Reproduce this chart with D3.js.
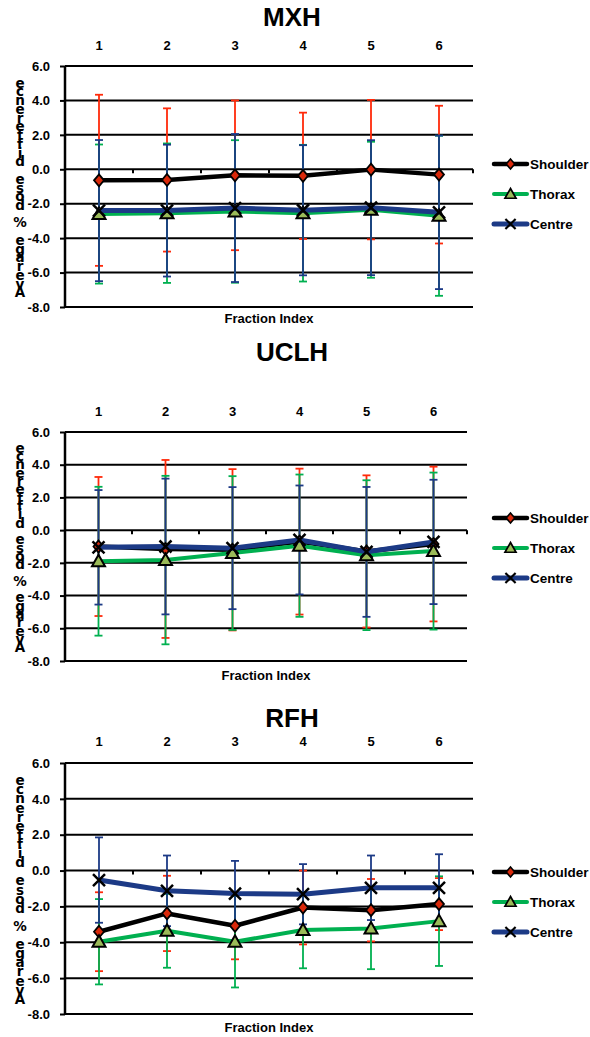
<!DOCTYPE html>
<html>
<head>
<meta charset="utf-8">
<script src="https://cdn.jsdelivr.net/npm/d3@7"></script>
<style>
body { margin: 0; background: #fff; }
text { font-family: "Liberation Sans", Arial, sans-serif; font-weight: bold; }
</style>
</head>
<body>
<script>
const fractions = ["1", "2", "3", "4", "5", "6"];
const yTicks = [6, 4, 2, 0, -2, -4, -6, -8];
const seriesNames = ["Shoulder", "Thorax", "Centre"];
const yTitle = "Average % dose difference";

// MXH  (mean, sd)
const mxhShoulder = [-0.64, -0.62, -0.35, -0.38, -0.02, -0.31];
const mxhShoulderSd = [4.97, 4.16, 4.35, 3.67, 4.05, 4.0];
const mxhThorax = [-2.6, -2.55, -2.45, -2.55, -2.35, -2.7];
const mxhThoraxSd = [4.04, 4.05, 4.14, 3.97, 3.95, 4.65];
const mxhCentre = [-2.4, -2.4, -2.25, -2.38, -2.23, -2.5];
const mxhCentreSd = [4.1, 3.83, 4.3, 3.78, 3.92, 4.46];

// UCLH
const uclhShoulder = [-1.0, -1.15, -1.2, -0.7, -1.3, -0.85];
const uclhShoulderSd = [4.25, 5.44, 4.93, 4.46, 4.65, 4.73];
const uclhThorax = [-1.9, -1.83, -1.4, -0.95, -1.53, -1.28];
const uclhThoraxSd = [4.55, 5.15, 4.7, 4.35, 4.58, 4.8];
const uclhCentre = [-1.05, -1.0, -1.1, -0.6, -1.33, -0.72];
const uclhCentreSd = [3.5, 4.15, 3.73, 3.33, 3.97, 3.8];

// RFH
const rfhShoulder = [-3.41, -2.39, -3.08, -2.06, -2.21, -1.87];
const rfhShoulderSd = [2.2, 2.1, 1.87, 2.06, 1.74, 1.45];
const rfhThorax = [-3.97, -3.36, -3.97, -3.32, -3.23, -2.82];
const rfhThoraxSd = [2.38, 2.06, 2.55, 2.13, 2.27, 2.5];
const rfhCentre = [-0.53, -1.13, -1.28, -1.32, -0.96, -0.96];
const rfhCentreSd = [2.38, 1.97, 1.82, 1.68, 1.8, 1.87];

const panels = [
    {title: "MXH", means: [mxhShoulder, mxhThorax, mxhCentre], sds: [mxhShoulderSd, mxhThoraxSd, mxhCentreSd],
     top: 66, bottom: 307, left: 65, right: 473, titleY: 26, labelY: 50, xTitleY: 323, legendY: 164},
    {title: "UCLH", means: [uclhShoulder, uclhThorax, uclhCentre], sds: [uclhShoulderSd, uclhThoraxSd, uclhCentreSd],
     top: 432, bottom: 661, left: 65, right: 467, titleY: 361, labelY: 416, xTitleY: 680, legendY: 518},
    {title: "RFH", means: [rfhShoulder, rfhThorax, rfhCentre], sds: [rfhShoulderSd, rfhThoraxSd, rfhCentreSd],
     top: 763, bottom: 1014, left: 65, right: 473, titleY: 727, labelY: 746, xTitleY: 1032, legendY: 872}
];

const lineColors = ["#000000", "#00b050", "#1c3a86"];
const errColors = ["#ff2a0a", "#00b050", "#1c3a86"];
const lineWidths = [4.5, 4, 5];

const markerPath = [
    "M0,-6L5,0L0,6L-5,0Z",
    "M0,-6.5L6.5,5L-6.5,5Z",
    "M-6,-6L6,6M-6,6L6,-6"
];

function drawMarker(sel, k) {
    if (k === 0) {
        sel.attr("d", markerPath[0]).attr("fill", "#d9290b").attr("stroke", "#000").attr("stroke-width", 1.8);
    } else if (k === 1) {
        sel.attr("d", markerPath[1]).attr("fill", "#9bbb59").attr("stroke", "#000").attr("stroke-width", 2);
    } else {
        sel.attr("d", markerPath[2]).attr("fill", "none").attr("stroke", "#000").attr("stroke-width", 2.5);
    }
}

const svg = d3.select("body")
    .append("svg")
    .attr("width", 590)
    .attr("height", 1037);

panels.forEach(p => {
    const g = svg.append("g");

    const x = d3.scaleBand().domain(fractions).range([p.left, p.right]);
    const y = d3.scaleLinear().domain([-8, 6]).range([p.bottom, p.top]);
    const cx = d => x(d) + x.bandwidth() / 2;

    g.append("text")
        .attr("x", 292)
        .attr("y", p.titleY)
        .attr("text-anchor", "middle")
        .style("font-size", "26px")
        .text(p.title);

    // gridlines
    g.selectAll(".grid")
        .data(yTicks)
        .join("line")
        .attr("class", "grid")
        .attr("x1", p.left)
        .attr("x2", p.right)
        .attr("y1", d => y(d))
        .attr("y2", d => y(d))
        .attr("stroke", "#000")
        .attr("stroke-width", 2);

    // y axis
    const yAxis = g.append("g")
        .attr("transform", `translate(${p.left},0)`)
        .call(d3.axisLeft(y).tickValues(yTicks).tickSize(5).tickPadding(10).tickFormat(d => d.toFixed(1)));
    yAxis.select(".domain").attr("stroke-width", 2.5).attr("d", `M0,${p.top}V${p.bottom}`);
    yAxis.selectAll(".tick line").attr("stroke-width", 2);
    yAxis.selectAll(".tick text").style("font-size", "13px").style("font-family", "'Liberation Sans', Arial, sans-serif").style("font-weight", "bold");

    // x axis ticks on zero line (band boundaries)
    g.selectAll(".xt")
        .data(fractions)
        .join("line")
        .attr("class", "xt")
        .attr("x1", d => x(d) + x.bandwidth())
        .attr("x2", d => x(d) + x.bandwidth())
        .attr("y1", y(0))
        .attr("y2", y(0) + 4)
        .attr("stroke", "#000")
        .attr("stroke-width", 2);

    // category labels at top
    const xAxis = g.append("g")
        .attr("transform", `translate(0,${p.labelY})`)
        .call(d3.axisTop(x).tickSize(0).tickPadding(0));
    xAxis.select(".domain").remove();
    xAxis.selectAll(".tick text").style("font-size", "13px").style("font-family", "'Liberation Sans', Arial, sans-serif").style("font-weight", "bold");

    g.append("text")
        .attr("x", (p.left + p.right) / 2)
        .attr("y", p.xTitleY)
        .attr("text-anchor", "middle")
        .style("font-size", "13px")
        .text("Fraction Index");

    // y title, characters stacked bottom to top
    const chars = Array.from(yTitle).reverse();
    const step = (p.bottom - p.top) * 0.871 / (chars.length - 1);
    const mid = (p.top + p.bottom) / 2;
    const first = mid - step * (chars.length - 1) / 2 + 6;
    g.append("text")
        .attr("text-anchor", "middle")
        .style("font-family", "'DejaVu Sans', Verdana, sans-serif")
        .style("font-size", "13.5px")
        .selectAll("tspan")
        .data(chars)
        .join("tspan")
        .attr("x", 20)
        .attr("y", (d, i) => first + i * step)
        .text(d => d);

    const series = p.means.map((m, k) => fractions.map((f, i) => ({f: f, m: m[i], sd: p.sds[k][i]})));

    // error bars
    series.forEach((s, k) => {
        const eg = g.append("g").attr("stroke", errColors[k]).attr("stroke-width", 1.8);
        eg.selectAll(".ev").data(s).join("line")
            .attr("x1", d => cx(d.f)).attr("x2", d => cx(d.f))
            .attr("y1", d => y(d.m + d.sd)).attr("y2", d => y(d.m - d.sd));
        eg.selectAll(".eh").data(s).join("line")
            .attr("x1", d => cx(d.f) - 4).attr("x2", d => cx(d.f) + 4)
            .attr("y1", d => y(d.m + d.sd)).attr("y2", d => y(d.m + d.sd));
        eg.selectAll(".el").data(s).join("line")
            .attr("x1", d => cx(d.f) - 4).attr("x2", d => cx(d.f) + 4)
            .attr("y1", d => y(d.m - d.sd)).attr("y2", d => y(d.m - d.sd));
    });

    // lines and markers
    const line = d3.line().x(d => cx(d.f)).y(d => y(d.m));
    series.forEach((s, k) => {
        g.append("path")
            .datum(s)
            .attr("d", line)
            .attr("fill", "none")
            .attr("stroke", lineColors[k])
            .attr("stroke-width", lineWidths[k])
            .attr("stroke-linejoin", "round");
        g.selectAll(".mk" + k)
            .data(s)
            .join("path")
            .attr("class", "mk" + k)
            .attr("transform", d => `translate(${cx(d.f)},${y(d.m)})`)
            .call(drawMarker, k);
    });

    // legend
    seriesNames.forEach((name, k) => {
        const ly = p.legendY + k * 30;
        const lg = g.append("g");
        lg.append("line")
            .attr("x1", 494).attr("x2", 527)
            .attr("y1", ly).attr("y2", ly)
            .attr("stroke", lineColors[k])
            .attr("stroke-width", lineWidths[k])
            .attr("stroke-linecap", "round");
        lg.append("path")
            .attr("transform", `translate(510.5,${ly}) scale(0.85)`)
            .call(drawMarker, k);
        lg.append("text")
            .attr("x", 530)
            .attr("y", ly + 5)
            .style("font-size", "13.5px")
            .text(name);
    });
});
</script>
</body>
</html>
